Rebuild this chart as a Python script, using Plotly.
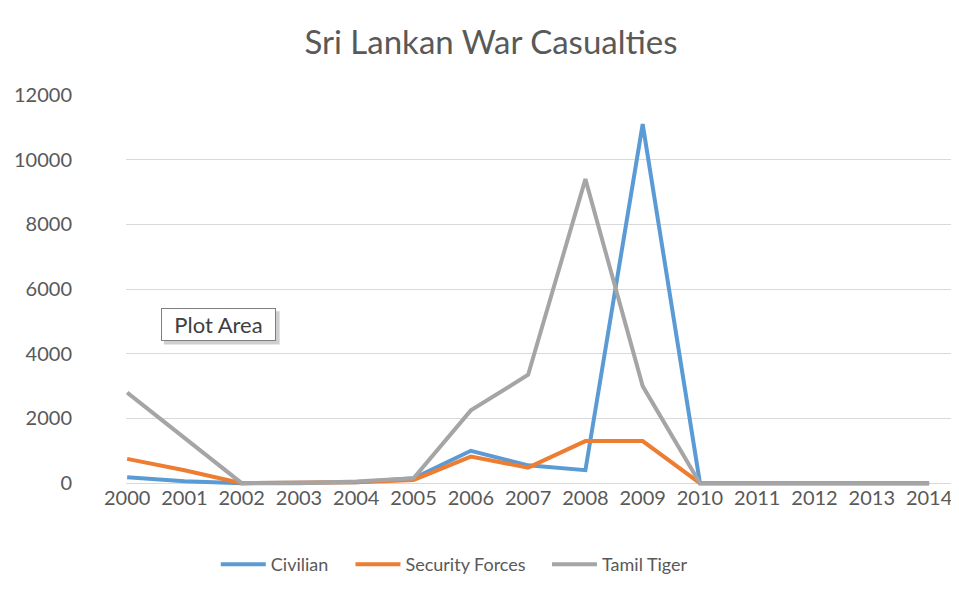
import plotly.graph_objects as go

years = list(range(2000, 2015))
civilian = [180, 60, 0, 0, 30, 150, 1000, 550, 400, 11100, 0, 0, 0, 0, 0]
security_forces = [750, 400, 0, 0, 30, 100, 820, 480, 1300, 1300, 0, 0, 0, 0, 0]
tamil_tiger = [2800, 1400, 0, 0, 50, 150, 2250, 3350, 9400, 3000, 0, 0, 0, 0, 0]
y_ticks = [0, 2000, 4000, 6000, 8000, 10000, 12000]

series = [
    ("Civilian", civilian, "#5B9BD5"),
    ("Security Forces", security_forces, "#ED7D31"),
    ("Tamil Tiger", tamil_tiger, "#A5A5A5"),
]
legend_left = [220, 355, 552]  # screen x where each legend line sample starts

# The page body has an 8px default margin; size the figure so it fits the window.
OFF = 8
W, H = 959 - OFF, 589 - OFF
ML, MR, MT, MB = 117, 6, 87, 94
PW, PH = W - ML - MR, H - MT - MB


def px_x(sx):  # screen x -> paper x
    return (sx - OFF - ML) / PW


def px_y(sy):  # screen y -> paper y
    return (H - MB - (sy - OFF)) / PH


FONT = "Lato, Open Sans, sans-serif"
fig = go.Figure()
legend_ids = ["legend", "legend2", "legend3"]
for (name, vals, color), lid in zip(series, legend_ids):
    fig.add_trace(go.Scatter(x=years, y=vals, name=name, mode="lines", legend=lid,
                             line=dict(color=color, width=4)))

legend_common = dict(orientation="h", xanchor="left", yanchor="middle",
                     font=dict(size=18, color="#595959"), itemwidth=45,
                     bgcolor="rgba(0,0,0,0)", borderwidth=0)
legend_layout = {}
for lid, lx in zip(legend_ids, legend_left):
    legend_layout[lid] = dict(legend_common, x=px_x(lx - 5), y=px_y(573))

fig.update_layout(
    width=W, height=H,
    paper_bgcolor="white", plot_bgcolor="white",
    margin=dict(l=ML, r=MR, t=MT, b=MB),
    font=dict(family=FONT, color="#595959"),
    title=dict(text="Sri Lankan War Casualties", x=(491 - OFF) / W, xref="container",
               xanchor="center", y=1 - (42 - OFF) / H, yref="container", yanchor="middle",
               font=dict(size=33, color="#595959", family=FONT)),
    showlegend=True,
    xaxis=dict(range=[1999.98, 2014.4], tickvals=years, ticktext=[str(y) for y in years],
               showgrid=False, zeroline=False, showline=False, ticks="",
               ticklabelstandoff=-4,
               tickfont=dict(size=20, color="#595959")),
    yaxis=dict(range=[-150, 12000], tickvals=y_ticks, ticktext=[str(v) for v in y_ticks],
               showgrid=True, gridcolor="#D9D9D9", gridwidth=1, zeroline=False,
               showline=False, ticks="outside", ticklen=49, tickcolor="rgba(0,0,0,0)",
               tickfont=dict(size=20, color="#595959")),
    shapes=[dict(type="rect", xref="paper", yref="paper",
                 x0=px_x(163), x1=px_x(279), y0=px_y(349), y1=px_y(315),
                 fillcolor="#CFCFCF", line=dict(width=0), layer="above")],
    annotations=[dict(text="Plot Area", x=px_x(217.5), y=px_y(328.5),
                      xref="paper", yref="paper", xanchor="center", yanchor="middle",
                      width=105, height=23,
                      showarrow=False, font=dict(size=22, color="#404040", family=FONT),
                      bordercolor="#7F7F7F", borderwidth=1, borderpad=4, bgcolor="white")],
    **legend_layout,
)

fig.write_html("out.html")
